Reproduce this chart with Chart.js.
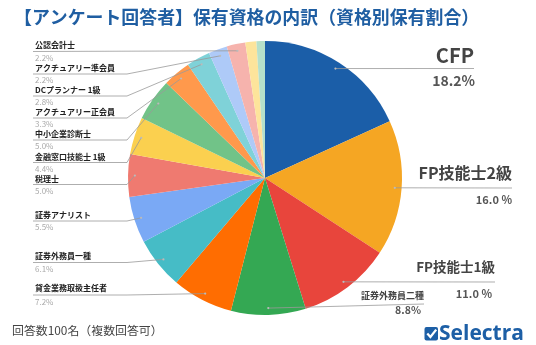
<!DOCTYPE html>
<html>
<head>
<meta charset="utf-8">
<script src="https://cdn.jsdelivr.net/npm/chart.js@4"></script>
<style>
  html, body { margin: 0; padding: 0; background: #fff; }
  #wrap { width: 536px; height: 345px; position: relative; }
</style>
</head>
<body>
<div id="wrap"><canvas id="pieChart" width="536" height="345"></canvas></div>
<script>
// Holders per qualification (% of 100 respondents, multiple answers allowed)
const labels = [
  "CFP", "FP技能士2級", "FP技能士1級", "証券外務員二種", "貸金業務取扱主任者",
  "証券外務員一種", "証券アナリスト", "税理士", "金融窓口技能士 1級", "中小企業診断士",
  "アクチュアリー正会員", "DCプランナー 1級", "アクチュアリー準会員", "公認会計士", "", ""
];
const values = [18.2, 16.0, 11.0, 8.8, 7.2, 6.1, 5.5, 5.0, 4.4, 5.0, 3.3, 2.8, 2.2, 2.2, 1.3, 1.0];
const pctText = [
  "18.2%", "16.0 %", "11.0 %", "8.8%", "7.2%", "6.1%", "5.5%", "5.0%", "4.4%", "5.0%",
  "3.3%", "2.8%", "2.2%", "2.2%", "", ""
];
const colors = [
  "#1b5ea8", "#f5a623", "#e8453c", "#34a853", "#ff6d01", "#46bcc6", "#7aa9f5", "#ef7a70",
  "#fbd04f", "#71c388", "#ff994c", "#7fd2d8", "#aecaf8", "#f6b3ad", "#fde49b", "#b6e0ca"
];

const TITLE = "【アンケート回答者】保有資格の内訳（資格別保有割合）";
const NOTE = "回答数100名（複数回答可）";
const JP = '"Noto Sans CJK JP", "Noto Sans", sans-serif';

// label layout: left column (name / underline / pct)
const leftLayout = [
  { i: 13, y: 45, uy: 51.5, py: 58 },
  { i: 12, y: 67.5, uy: 74, py: 80 },
  { i: 11, y: 89.5, uy: 96, py: 102 },
  { i: 10, y: 111.5, uy: 118, py: 124 },
  { i: 9, y: 134, uy: 140, py: 146 },
  { i: 8, y: 156.5, uy: 162.5, py: 168.5 },
  { i: 7, y: 179, uy: 184.5, py: 191 },
  { i: 6, y: 215, uy: 221, py: 227 },
  { i: 5, y: 256, uy: 262.5, py: 268.5 },
  { i: 4, y: 288, uy: 295, py: 301.5 }
];
// right side, big labels
const rightLayout = [
  { i: 0, x: 474, y: 55, uy: 68.5, py: 81, nameSize: 20, pctSize: 14, pctX: 475 },
  { i: 1, x: 512, y: 173, uy: 188, py: 200, nameSize: 16, pctSize: 11, pctX: 512 },
  { i: 2, x: 495, y: 266.5, uy: 282, py: 293.5, nameSize: 13.5, pctSize: 11, pctX: 492 },
  { i: 3, x: 424, y: 295.5, uy: 304, py: 310.5, nameSize: 9, pctSize: 10.5, pctX: 421 }
];

function anchor(chart, i) {
  const arc = chart.getDatasetMeta(0).data[i];
  const mid = (arc.startAngle + arc.endAngle) / 2;
  const r = arc.outerRadius * 0.95;
  return { x: arc.x + Math.cos(mid) * r, y: arc.y + Math.sin(mid) * r };
}

function dot(ctx, p) {
  ctx.beginPath();
  ctx.arc(p.x, p.y, 1.1, 0, Math.PI * 2);
  ctx.fillStyle = "#bbb";
  ctx.fill();
}

const annotate = {
  id: "annotate",
  afterDraw(chart) {
    const ctx = chart.ctx;
    ctx.save();

    // title
    ctx.fillStyle = "#1f5ea2";
    ctx.font = "bold 17.9px " + JP;
    ctx.textBaseline = "middle";
    ctx.textAlign = "left";
    ctx.fillText(TITLE, 14, 17);

    // left labels
    leftLayout.forEach(l => {
      const p = anchor(chart, l.i);
      ctx.strokeStyle = "#999";
      ctx.lineWidth = 0.8;
      ctx.beginPath();
      ctx.moveTo(33, l.uy);
      const elbow = Math.min(127, p.x);
      if (l.i === 13) ctx.lineTo(p.x, p.y);
      else { ctx.lineTo(elbow, l.uy); ctx.lineTo(p.x, p.y); }
      ctx.stroke();
      dot(ctx, p);

      ctx.textAlign = "left";
      ctx.fillStyle = "#222";
      ctx.font = "bold 8px " + JP;
      ctx.fillText(labels[l.i], 35, l.y);
      ctx.fillStyle = "#aaa";
      ctx.font = "8px " + JP;
      ctx.fillText(pctText[l.i], 35, l.py);
    });

    // right labels
    rightLayout.forEach(l => {
      const p = anchor(chart, l.i);
      ctx.strokeStyle = "#999";
      ctx.lineWidth = 0.8;
      ctx.beginPath();
      ctx.moveTo(p.x, p.y);
      ctx.lineTo(l.x, l.uy);
      ctx.stroke();
      dot(ctx, p);

      ctx.textAlign = "right";
      ctx.fillStyle = "#444";
      ctx.font = "bold " + l.nameSize + "px " + JP;
      ctx.fillText(labels[l.i], l.x, l.y);
      ctx.fillStyle = "#555";
      ctx.font = "bold " + l.pctSize + "px " + JP;
      ctx.fillText(pctText[l.i], l.pctX, l.py);
    });

    // footnote
    ctx.textAlign = "left";
    ctx.fillStyle = "#444";
    ctx.font = "11.9px " + JP;
    ctx.fillText(NOTE, 12, 330);

    // logo
    ctx.fillStyle = "#1d5fa6";
    ctx.beginPath();
    ctx.roundRect(424.5, 327, 13.5, 13.5, 2);
    ctx.fill();
    ctx.strokeStyle = "#fff";
    ctx.lineWidth = 2.3;
    ctx.beginPath();
    ctx.moveTo(427.3, 333.6);
    ctx.lineTo(430.4, 337);
    ctx.lineTo(436.2, 329.6);
    ctx.stroke();
    ctx.fillStyle = "#1d5fa6";
    ctx.font = 'bold 21px "Open Sans", sans-serif';
    ctx.fillText("Selectra", 439, 334);

    ctx.restore();
  }
};

new Chart(document.getElementById("pieChart"), {
  type: "pie",
  data: {
    labels: labels,
    datasets: [{
      data: values,
      backgroundColor: colors,
      borderWidth: 0
    }]
  },
  options: {
    responsive: false,
    animation: false,
    layout: { padding: { left: 128, right: 134, top: 41, bottom: 30 } },
    plugins: {
      legend: { display: false },
      tooltip: { enabled: false }
    }
  },
  plugins: [annotate]
});
</script>
</body>
</html>
